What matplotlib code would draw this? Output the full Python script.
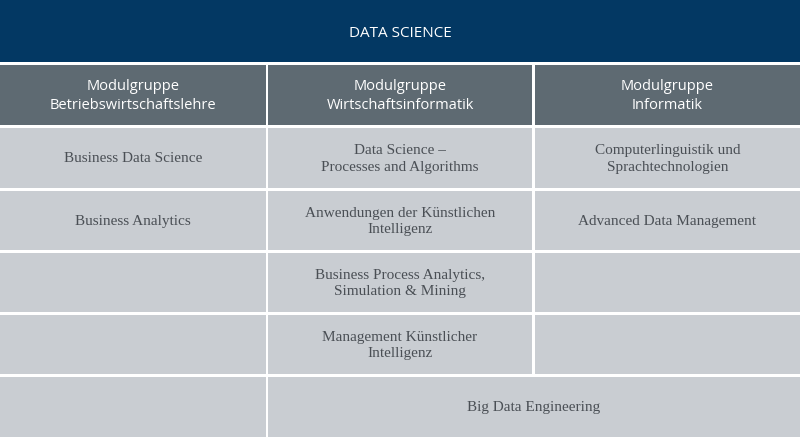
import matplotlib
matplotlib.use("Agg")
import matplotlib.pyplot as plt
from matplotlib.patches import Rectangle

title = "DATA SCIENCE"
headers = ["Modulgruppe\nBetriebswirtschaftslehre", "Modulgruppe\nWirtschaftsinformatik", "Modulgruppe\nInformatik"]
col1 = ["Business Data Science", "Business Analytics", "", ""]
col2 = ["Data Science –\nProcesses and Algorithms", "Anwendungen der Künstlichen\nIntelligenz",
        "Business Process Analytics,\nSimulation & Mining", "Management Künstlicher\nIntelligenz"]
col3 = ["Computerlinguistik und\nSprachtechnologien", "Advanced Data Management", "", ""]
spanning = "Big Data Engineering"

W, H = 800, 443
fig = plt.figure(figsize=(8, 4.43), dpi=100)
ax = fig.add_axes([0, 0, 1, 1])
ax.set_xlim(0, W); ax.set_ylim(H, 0); ax.axis("off")

navy = "#033863"; hdr = "#5e6a72"; body = "#c9cdd2"
def rect(x0, y0, x1, y1, c):
    ax.add_patch(Rectangle((x0, y0), x1 - x0, y1 - y0, color=c, lw=0))

rect(0, 0, W, 62, navy)
ax.text(W / 2, 33, title, color="white", ha="center", va="center", fontsize=11, family="Open Sans")
cols = [(0, 266), (268, 532), (535, W)]
for (x0, x1), h in zip(cols, headers):
    rect(x0, 65, x1, 125, hdr)
    ax.text((x0 + x1) / 2, 96, h, color="white", ha="center", va="center", fontsize=10.5,
            family="Open Sans", linespacing=1.3)
rows = [(128, 188), (191, 250), (253, 312), (315, 374)]
for i, (y0, y1) in enumerate(rows):
    for (x0, x1), col in zip(cols, [col1, col2, col3]):
        rect(x0, y0, x1, y1, body)
        if col[i]:
            ax.text((x0 + x1) / 2, (y0 + y1) / 2 + 1, col[i], color="#4a4f55", ha="center", va="center",
                    fontsize=11, family="Liberation Serif", linespacing=1.35)
rect(0, 377, 266, 437, body)
rect(268, 377, W, 437, body)
ax.text((268 + W) / 2, 408, spanning, color="#4a4f55", ha="center", va="center", fontsize=11,
        family="Liberation Serif")
fig.savefig("out.png", dpi=100, facecolor="white")
